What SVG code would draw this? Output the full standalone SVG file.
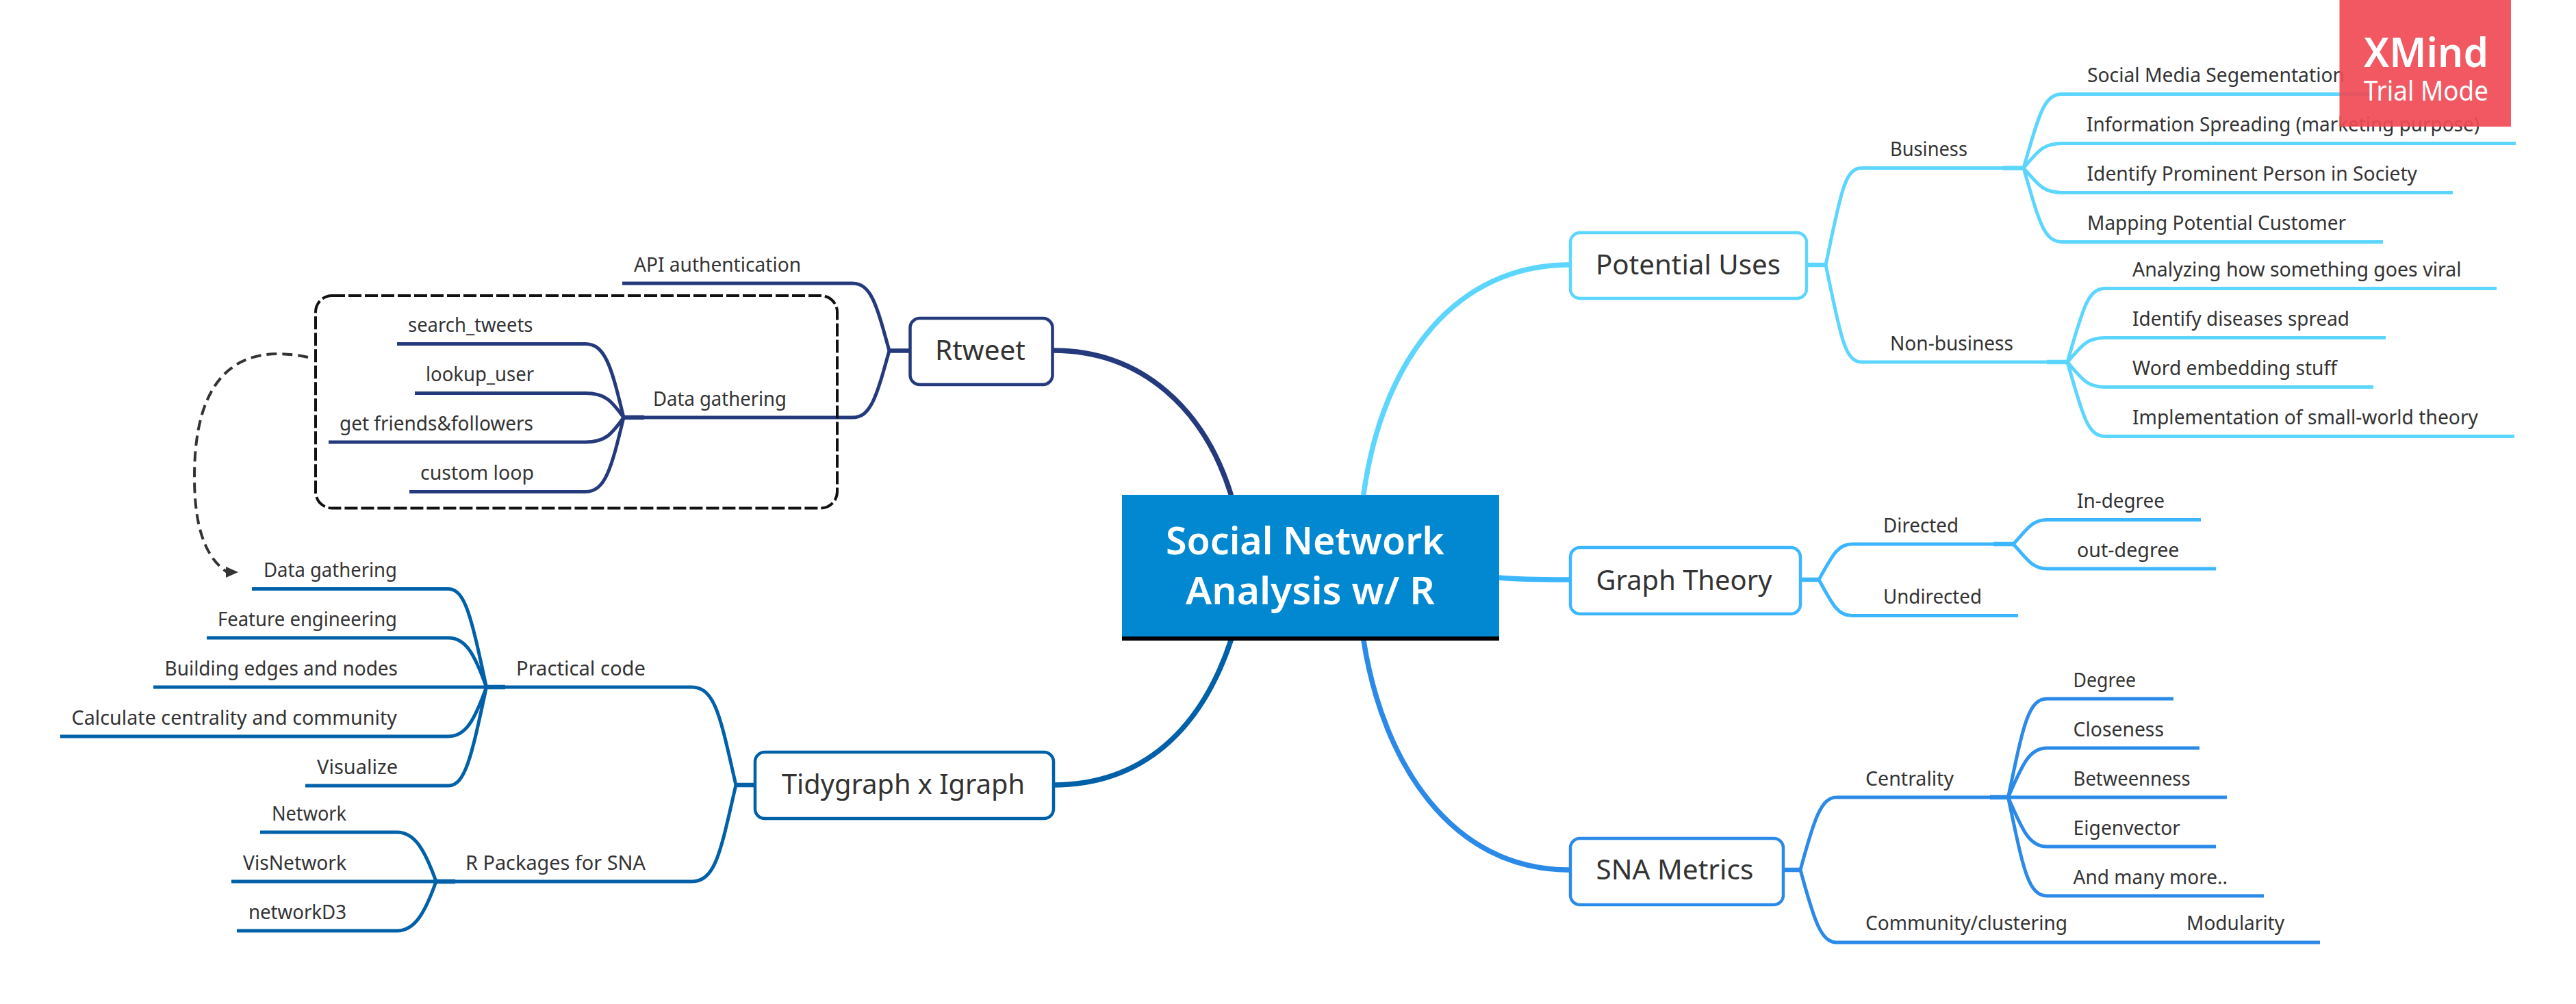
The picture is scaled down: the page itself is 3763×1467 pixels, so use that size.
<svg xmlns="http://www.w3.org/2000/svg" width="3763" height="1467" viewBox="0 0 3763 1467">
<style>
text{font-family:"Noto Sans","Open Sans","Liberation Sans",sans-serif;fill:#333}
.t{font-size:29px}
.n{font-size:40px}
.c{fill:none;stroke-width:5}
.s{fill:none;stroke-width:6.500}
.r{fill:none;stroke-width:7.500;stroke-linecap:round}
.box{fill:#fff;stroke-width:4.500}
.pu{stroke:#5cd6ff}.gt{stroke:#3cb6ff}.sn{stroke:#2b8ae8}.rt{stroke:#253a7c}.td{stroke:#0060a8}
</style>
<defs>
<marker id="arrow" markerUnits="userSpaceOnUse" markerWidth="18" markerHeight="16" refX="2" refY="8" orient="0"><path d="M0,0L18,8L0,16Z" fill="#333"/></marker>
</defs>
<g id="connectors">
<path class="r rt" d="M1538,512C1670,512 1760,600 1798,722"/>
<path class="r td" d="M1538,1147C1670,1147 1755,1065 1798,936"/>
<path class="r pu" d="M2292,387C2130,387 2020,520 1992,722"/>
<path class="r sn" d="M2292,1271C2120,1271 2020,1115 1992,936"/>
<path class="r gt" d="M2292,847C2250,847 2220,847 2190,844"/>

<g class="pu">
<path class="s" d="M2638,387H2667M2926,245.400H2956M2990,529H3020"/>
<path class="c" d="M2667,387C2688,288 2694,245.400 2719,245.400H2956"/>
<path class="c" d="M2667,387C2688,486 2694,529 2719,529H3020"/>
<path class="c" d="M2956,245.400C2978,170 2985,137.500 3012,137.500H3468"/>
<path class="c" d="M2956,245.400C2978,220 2985,209.500 3012,209.500H3675"/>
<path class="c" d="M2956,245.400C2978,270.600 2985,281.400 3012,281.400H3583"/>
<path class="c" d="M2956,245.400C2978,321 2985,353.400 3012,353.400H3481"/>
<path class="c" d="M3020,529C3042,454 3049,421.500 3075,421.500H3647"/>
<path class="c" d="M3020,529C3042,504 3049,493.500 3075,493.500H3485"/>
<path class="c" d="M3020,529C3042,554.500 3049,565.500 3075,565.500H3467"/>
<path class="c" d="M3020,529C3042,605 3049,637.500 3075,637.500H3673"/>
</g>
<g class="gt">
<path class="s" d="M2630,847H2657M2912,795H2941"/>
<path class="c" d="M2657,847C2677,811 2685,795 2705,795H2941"/>
<path class="c" d="M2657,847C2677,884 2685,899.500 2705,899.500H2948"/>
<path class="c" d="M2941,795C2960,775 2968,759.400 2990,759.400H3215"/>
<path class="c" d="M2941,795C2960,815 2968,831 2990,831H3237"/>
</g>
<g class="sn">
<path class="s" d="M2605,1271H2630M2907,1165H2933.500"/>
<path class="c" d="M2630,1271C2650,1197 2660,1165 2683,1165H2933.500"/>
<path class="c" d="M2630,1271C2650,1345 2660,1377 2683,1377H3389"/>
<path class="c" d="M2933.500,1165C2955,1064 2962,1021 2990,1021H3175"/>
<path class="c" d="M2933.500,1165C2955,1115 2965,1093 2990,1093H3213"/>
<path class="c" d="M2933.500,1165H3253"/>
<path class="c" d="M2933.500,1165C2955,1215 2965,1237 2990,1237H3237"/>
<path class="c" d="M2933.500,1165C2955,1266 2962,1309 2990,1309H3307"/>
</g>
<g class="rt">
<path class="s" d="M1329,512.500H1299M911,610H941"/>
<path class="c" d="M1299,512.500C1280,443 1272,414 1245,414H909"/>
<path class="c" d="M1299,512.500C1280,581 1272,610 1245,610H911"/>
<path class="c" d="M911,610C893,535 884,502.500 855,502.500H580"/>
<path class="c" d="M911,610C893,585 884,574.600 855,574.600H606"/>
<path class="c" d="M911,610C893,635 884,646 855,646H480"/>
<path class="c" d="M911,610C893,685 884,718.600 855,718.600H598"/>
</g>
<g class="td">
<path class="s" d="M1102,1147H1075M710.500,1004H738M637,1288H665"/>
<path class="c" d="M1075,1147C1052,1047 1045,1004 1010,1004H710.500"/>
<path class="c" d="M1075,1147C1052,1247 1045,1288 1010,1288H637"/>
<path class="c" d="M710.500,1004C689,904.500 680,860.400 655,860.400H368"/>
<path class="c" d="M710.500,1004C693,955 680,932 655,932H302"/>
<path class="c" d="M710.500,1004H224"/>
<path class="c" d="M710.500,1004C693,1053 680,1076 655,1076H88"/>
<path class="c" d="M710.500,1004C689,1104 680,1148 655,1148H446"/>
<path class="c" d="M637,1288C620,1240 605,1216 580,1216H380"/>
<path class="c" d="M637,1288H338"/>
<path class="c" d="M637,1288C620,1336 605,1360 580,1360H346"/>
</g>
<path d="M450,522C300,490 284,620 284,697C284,750 292,810 332,836" fill="none" stroke="#333" stroke-width="4" stroke-dasharray="15 8" marker-end="url(#arrow)"/>
</g>

<rect id="boundary" x="461" y="432" width="762" height="310.500" rx="24" fill="none" stroke="#111" stroke-width="4" stroke-dasharray="19 5"/>

<g id="central">
<rect x="1639" y="723" width="551" height="212" fill="#0288d1"/>
<rect x="1639" y="930" width="551" height="6" fill="#000"/>
<text x="1703" y="810" font-size="56" font-weight="600" textLength="407" lengthAdjust="spacingAndGlyphs" style="fill:#fff">Social Network</text>
<text x="1732" y="883" font-size="56" font-weight="600" textLength="364" lengthAdjust="spacingAndGlyphs" style="fill:#fff">Analysis w/ R</text>
</g>

<g id="potential-uses"><rect class="box pu" x="2294" y="340" width="345" height="96" rx="14"/><text class="n" x="2331" y="401" textLength="270" lengthAdjust="spacingAndGlyphs">Potential Uses</text></g>
<g id="graph-theory"><rect class="box gt" x="2294" y="800" width="336" height="97" rx="14"/><text class="n" x="2331.500" y="861.500" textLength="257" lengthAdjust="spacingAndGlyphs">Graph Theory</text></g>
<g id="sna-metrics"><rect class="box sn" x="2294" y="1225" width="311" height="97" rx="14"/><text class="n" x="2331.500" y="1285" textLength="230" lengthAdjust="spacingAndGlyphs">SNA Metrics</text></g>
<g id="rtweet"><rect class="box rt" x="1329.500" y="465" width="208" height="97" rx="14"/><text class="n" x="1366" y="526" textLength="132" lengthAdjust="spacingAndGlyphs">Rtweet</text></g>
<g id="tidygraph"><rect class="box td" x="1103" y="1099" width="436" height="97" rx="14"/><text class="n" x="1142" y="1160" textLength="355" lengthAdjust="spacingAndGlyphs">Tidygraph x Igraph</text></g>

<g id="pu-labels">
<g id="business"><text class="t" x="2761" y="227.500" textLength="113" lengthAdjust="spacingAndGlyphs">Business</text></g>
<g id="non-business"><text class="t" x="2761" y="511.500" textLength="180" lengthAdjust="spacingAndGlyphs">Non-business</text></g>
<g id="social-media"><text class="t" x="3049" y="120" textLength="376" lengthAdjust="spacingAndGlyphs">Social Media Segementation</text></g>
<g id="information"><text class="t" x="3048" y="192" textLength="574" lengthAdjust="spacingAndGlyphs">Information Spreading (marketing purpose)</text></g>
<g id="identify-person"><text class="t" x="3048.500" y="264" textLength="482.500" lengthAdjust="spacingAndGlyphs">Identify Prominent Person in Society</text></g>
<g id="mapping"><text class="t" x="3049" y="336" textLength="378" lengthAdjust="spacingAndGlyphs">Mapping Potential Customer</text></g>
<g id="analyzing"><text class="t" x="3115" y="404" textLength="480.500" lengthAdjust="spacingAndGlyphs">Analyzing how something goes viral</text></g>
<g id="diseases"><text class="t" x="3115" y="476" textLength="317" lengthAdjust="spacingAndGlyphs">Identify diseases spread</text></g>
<g id="word"><text class="t" x="3115" y="548" textLength="299" lengthAdjust="spacingAndGlyphs">Word embedding stuff</text></g>
<g id="small-world"><text class="t" x="3115" y="620" textLength="505" lengthAdjust="spacingAndGlyphs">Implementation of small-world theory</text></g>
</g>
<g id="gt-labels">
<g id="directed"><text class="t" x="2751" y="777.500" textLength="110" lengthAdjust="spacingAndGlyphs">Directed</text></g>
<g id="undirected"><text class="t" x="2751" y="882" textLength="144" lengthAdjust="spacingAndGlyphs">Undirected</text></g>
<g id="in-degree"><text class="t" x="3034" y="742" textLength="128" lengthAdjust="spacingAndGlyphs">In-degree</text></g>
<g id="out-degree"><text class="t" x="3034" y="813.500" textLength="149.500" lengthAdjust="spacingAndGlyphs">out-degree</text></g>
</g>
<g id="sn-labels">
<g id="centrality"><text class="t" x="2725" y="1147.500" textLength="129" lengthAdjust="spacingAndGlyphs">Centrality</text></g>
<g id="community"><text class="t" x="2725" y="1359" textLength="295" lengthAdjust="spacingAndGlyphs">Community/clustering</text></g>
<g id="modularity"><text class="t" x="3194" y="1359" textLength="143" lengthAdjust="spacingAndGlyphs">Modularity</text></g>
<g id="degree"><text class="t" x="3028.600" y="1003.500" textLength="91.400" lengthAdjust="spacingAndGlyphs">Degree</text></g>
<g id="closeness"><text class="t" x="3028.600" y="1075.500" textLength="132.400" lengthAdjust="spacingAndGlyphs">Closeness</text></g>
<g id="betweenness"><text class="t" x="3028.600" y="1147.500" textLength="171" lengthAdjust="spacingAndGlyphs">Betweenness</text></g>
<g id="eigenvector"><text class="t" x="3028.600" y="1219.500" textLength="156.400" lengthAdjust="spacingAndGlyphs">Eigenvector</text></g>
<g id="many-more"><text class="t" x="3028.600" y="1291.500" textLength="225.400" lengthAdjust="spacingAndGlyphs">And many more..</text></g>
</g>
<g id="rt-labels">
<g id="api"><text class="t" x="926" y="396.500" textLength="244" lengthAdjust="spacingAndGlyphs">API authentication</text></g>
<g id="data-gathering-1"><text class="t" x="954" y="592.500" textLength="195" lengthAdjust="spacingAndGlyphs">Data gathering</text></g>
<g id="search-tweets"><text class="t" x="596" y="485" textLength="182.500" lengthAdjust="spacingAndGlyphs">search_tweets</text></g>
<g id="lookup-user"><text class="t" x="622" y="557" textLength="158" lengthAdjust="spacingAndGlyphs">lookup_user</text></g>
<g id="friends"><text class="t" x="496" y="628.500" textLength="283" lengthAdjust="spacingAndGlyphs">get friends&amp;followers</text></g>
<g id="custom-loop"><text class="t" x="614" y="701" textLength="166" lengthAdjust="spacingAndGlyphs">custom loop</text></g>
</g>
<g id="td-labels">
<g id="practical"><text class="t" x="754" y="986.500" textLength="189" lengthAdjust="spacingAndGlyphs">Practical code</text></g>
<g id="packages"><text class="t" x="680" y="1270.500" textLength="263" lengthAdjust="spacingAndGlyphs">R Packages for SNA</text></g>
<g id="data-gathering-2"><text class="t" x="385" y="843" textLength="195" lengthAdjust="spacingAndGlyphs">Data gathering</text></g>
<g id="feature"><text class="t" x="318" y="914.500" textLength="262" lengthAdjust="spacingAndGlyphs">Feature engineering</text></g>
<g id="building"><text class="t" x="240.500" y="986.500" textLength="340.500" lengthAdjust="spacingAndGlyphs">Building edges and nodes</text></g>
<g id="calculate"><text class="t" x="104.600" y="1058.500" textLength="475.400" lengthAdjust="spacingAndGlyphs">Calculate centrality and community</text></g>
<g id="visualize"><text class="t" x="463" y="1130.500" textLength="118" lengthAdjust="spacingAndGlyphs">Visualize</text></g>
<g id="network"><text class="t" x="397" y="1198.500" textLength="109" lengthAdjust="spacingAndGlyphs">Network</text></g>
<g id="visnetwork"><text class="t" x="355" y="1270.500" textLength="151" lengthAdjust="spacingAndGlyphs">VisNetwork</text></g>
<g id="networkd3"><text class="t" x="363" y="1342.500" textLength="143" lengthAdjust="spacingAndGlyphs">networkD3</text></g>
</g>

<g id="watermark">
<rect x="3417.500" y="0" width="250.500" height="185" fill="#f04a55" opacity=".92"/>
<text x="3453" y="97.500" font-size="60" font-weight="600" textLength="182" lengthAdjust="spacingAndGlyphs" style="fill:#fff">XMind</text>
<text x="3453" y="147" font-size="40" textLength="182" lengthAdjust="spacingAndGlyphs" style="fill:#fff">Trial Mode</text>
</g>
</svg>
